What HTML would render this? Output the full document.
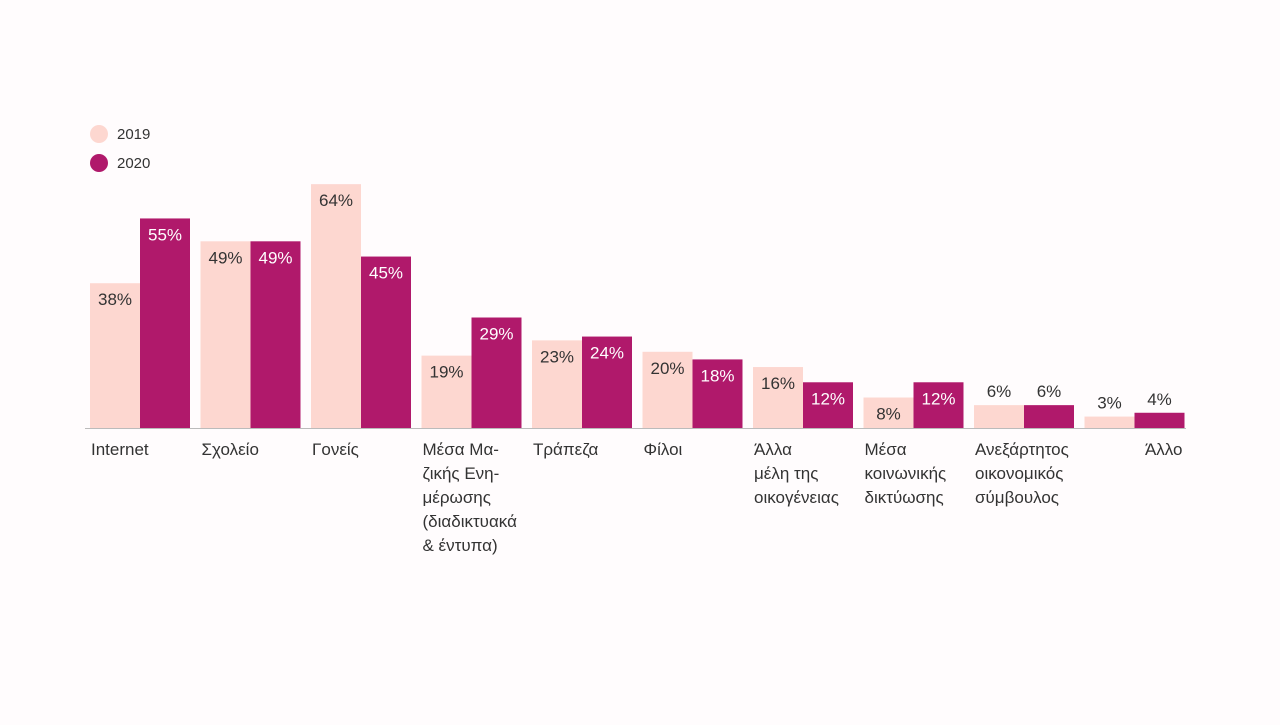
<!DOCTYPE html>
<html><head><meta charset="utf-8"><style>
body{margin:0;width:1280px;height:720px;background:#fffcfd;overflow:hidden;font-family:"Liberation Sans","DejaVu Sans",sans-serif}
svg text{font-family:"Liberation Sans","DejaVu Sans",sans-serif}
</style></head><body>
<svg width="1280" height="720" id="chart">
<g>
<circle cx="99" cy="134" r="9" fill="#fdd7d0"/>
<text x="117" y="139" font-size="15" fill="#333">2019</text>
<circle cx="99" cy="163" r="9" fill="#b0196b"/>
<text x="117" y="168" font-size="15" fill="#333">2020</text>
</g>
<line x1="85" y1="428.5" x2="1186" y2="428.5" stroke="#bbb" stroke-width="1"/>
</svg>
<script>
const categories=[["Internet"],["Σχολείο"],["Γονείς"],["Μέσα Μα-","ζικής Ενη-","μέρωσης","(διαδικτυακά","& έντυπα)"],["Τράπεζα"],["Φίλοι"],["Άλλα","μέλη της","οικογένειας"],["Μέσα","κοινωνικής","δικτύωσης"],["Ανεξάρτητος","οικονομικός","σύμβουλος"],["Άλλο"]];
const values2019=[38,49,64,19,23,20,16,8,6,3];
const values2020=[55,49,45,29,24,18,12,12,6,4];
const NS="http://www.w3.org/2000/svg";
const svg=document.getElementById('chart');
const base=428, scale=3.81, x0=90, step=110.5, bw=50;
const y=v=>base-v*scale;
function mk(tag,attrs){const e=document.createElementNS(NS,tag);for(const k in attrs)e.setAttribute(k,attrs[k]);svg.appendChild(e);return e;}
function bar(i,v,off,fill,txt,name){
  const x=x0+i*step+off;
  const r=mk('rect',{x:x,y:y(v),width:bw,height:v*scale,fill:fill});
  
  
  const inside=v>=8;
  const t=mk('text',{x:x+bw/2,y:inside?y(v)+22:y(v)-8,'text-anchor':'middle','font-size':17,fill:inside?txt:'#333'});
  t.textContent=v+'%';
  
  
}
categories.forEach((c,i)=>{
  bar(i,values2019[i],0,'#fdd7d0','#333','bar-2019-'+i);
  bar(i,values2020[i],bw,'#b0196b','#fff','bar-2020-'+i);
  const last=i===categories.length-1;
  c.forEach((ln,j)=>{
    const t=mk('text',{x:last?x0+i*step+2*bw-2:x0+i*step+1,y:455+j*24,'font-size':17,fill:'#333','text-anchor':last?'end':'start'});
    t.textContent=ln;
    
    
  });
});
</script>
</body></html>
